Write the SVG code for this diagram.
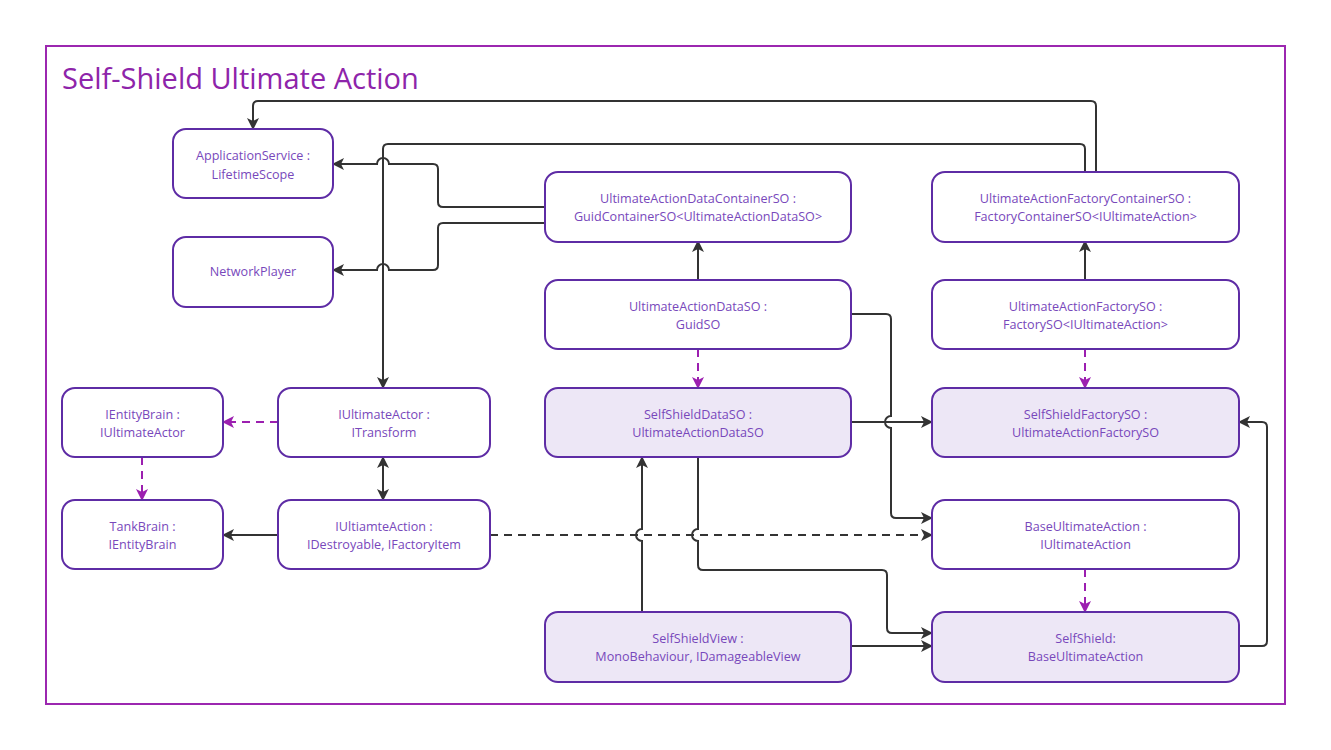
<svg xmlns="http://www.w3.org/2000/svg" width="1331" height="750" viewBox="0 0 1331 750">
<style>
.frame{fill:none;stroke:#9c27b0;stroke-width:2}
.title{font-family:"Open Sans","Liberation Sans",sans-serif;font-size:29px;fill:#8e24aa}
.node rect{fill:#ffffff;stroke:#5e2ca5;stroke-width:2}
.node.hl rect{fill:#ede7f6}
.node text{font-family:"Open Sans","Liberation Sans",sans-serif;font-size:12.6px;fill:#7848bb;text-anchor:middle}
.c{fill:none;stroke:#333333;stroke-width:2}
.d{stroke-dasharray:8,6}
.p{fill:none;stroke:#9c1fb0;stroke-width:2;stroke-dasharray:8,6}
</style>
<defs>
<marker id="a" viewBox="0 0 12 12" refX="11" refY="6" markerWidth="12" markerHeight="12" markerUnits="userSpaceOnUse" orient="auto-start-reverse">
<path d="M0,0 L12,6 L0,12 L3,6 Z" fill="#333333"/>
</marker>
<marker id="ap" viewBox="0 0 12 12" refX="11" refY="6" markerWidth="12" markerHeight="12" markerUnits="userSpaceOnUse" orient="auto">
<path d="M0,0 L12,6 L0,12 L3,6 Z" fill="#9c1fb0"/>
</marker>
</defs>
<rect class="frame" x="46" y="46" width="1239" height="658"/>
<text class="title" x="62" y="89">Self-Shield Ultimate Action</text>

<g id="connectors">
<path class="c" marker-end="url(#a)" d="M1096,172 V106 Q1096,101 1091,101 H258 Q253,101 253,106 V129"/>
<path class="c" marker-end="url(#a)" d="M1085,172 V149 Q1085,144 1080,144 H388 Q383,144 383,149 V388"/>
<path class="c" marker-end="url(#a)" d="M545,207 H443 Q438,207 438,202 V169 Q438,164 433,164 H389 A6,6 0 0 0 377,164 H333"/>
<path class="c" marker-end="url(#a)" d="M545,223 H443 Q438,223 438,228 V265 Q438,270 433,270 H389 A6,6 0 0 0 377,270 H333"/>
<path class="c" marker-end="url(#a)" d="M698,280 V241"/>
<path class="c" marker-end="url(#a)" d="M1085,280 V241"/>
<path class="p" marker-end="url(#ap)" d="M698,349 V388"/>
<path class="p" marker-end="url(#ap)" d="M1085,349 V388"/>
<path class="c" marker-end="url(#a)" d="M851,314 H886 Q891,314 891,319 V416 A6,6 0 0 0 891,428 V513 Q891,518 896,518 H932"/>
<path class="c" marker-end="url(#a)" d="M851,422 H932"/>
<path class="c d" marker-end="url(#a)" d="M490,535 H932"/>
<path class="c" marker-end="url(#a)" d="M642,612 V541 A6,6 0 0 1 642,529 V457"/>
<path class="c" marker-end="url(#a)" d="M698,457 V529 A6,6 0 0 0 698,541 V565 Q698,570 703,570 H882 Q887,570 887,575 V628 Q887,633 892,633 H932"/>
<path class="c" marker-end="url(#a)" d="M851,646 H932"/>
<path class="p" marker-end="url(#ap)" d="M1085,569 V612"/>
<path class="c" marker-end="url(#a)" d="M1239,646 H1262 Q1267,646 1267,641 V427 Q1267,422 1262,422 H1239"/>
<path class="p" marker-end="url(#ap)" d="M278,422 H223"/>
<path class="p" marker-end="url(#ap)" d="M142,457 V500"/>
<path class="c" marker-end="url(#a)" d="M278,535 H223"/>
<path class="c" marker-start="url(#a)" marker-end="url(#a)" d="M383,457 V500"/>
</g>

<g id="n-appservice" class="node"><rect x="173" y="129" width="160" height="69" rx="13"/><text x="253" y="160">ApplicationService :</text><text x="253" y="178.5">LifetimeScope</text></g>
<g id="n-networkplayer" class="node"><rect x="173" y="237" width="160" height="70" rx="13"/><text x="253" y="276">NetworkPlayer</text></g>
<g id="n-datacontainer" class="node"><rect x="545" y="172" width="306" height="70" rx="13"/><text x="698" y="202.5">UltimateActionDataContainerSO :</text><text x="698" y="221">GuidContainerSO&lt;UltimateActionDataSO&gt;</text></g>
<g id="n-factorycontainer" class="node"><rect x="932" y="172" width="307" height="70" rx="13"/><text x="1085.5" y="202.5">UltimateActionFactoryContainerSO :</text><text x="1085.5" y="221">FactoryContainerSO&lt;IUltimateAction&gt;</text></g>
<g id="n-dataso" class="node"><rect x="545" y="280" width="306" height="69" rx="13"/><text x="698" y="310.5">UltimateActionDataSO :</text><text x="698" y="329">GuidSO</text></g>
<g id="n-factoryso" class="node"><rect x="932" y="280" width="307" height="69" rx="13"/><text x="1085.5" y="310.5">UltimateActionFactorySO :</text><text x="1085.5" y="329">FactorySO&lt;IUltimateAction&gt;</text></g>
<g id="n-ientitybrain" class="node"><rect x="62" y="388" width="161" height="69" rx="13"/><text x="142.5" y="418.5">IEntityBrain :</text><text x="142.5" y="437">IUltimateActor</text></g>
<g id="n-iultimateactor" class="node"><rect x="278" y="388" width="212" height="69" rx="13"/><text x="384" y="418.5">IUltimateActor :</text><text x="384" y="437">ITransform</text></g>
<g id="n-selfshielddataso" class="node hl"><rect x="545" y="388" width="306" height="69" rx="13"/><text x="698" y="418.5">SelfShieldDataSO :</text><text x="698" y="437">UltimateActionDataSO</text></g>
<g id="n-selfshieldfactoryso" class="node hl"><rect x="932" y="388" width="307" height="69" rx="13"/><text x="1085.5" y="418.5">SelfShieldFactorySO :</text><text x="1085.5" y="437">UltimateActionFactorySO</text></g>
<g id="n-tankbrain" class="node"><rect x="62" y="500" width="161" height="69" rx="13"/><text x="142.5" y="530.5">TankBrain :</text><text x="142.5" y="549">IEntityBrain</text></g>
<g id="n-iultiamteaction" class="node"><rect x="278" y="500" width="212" height="69" rx="13"/><text x="384" y="530.5">IUltiamteAction :</text><text x="384" y="549">IDestroyable, IFactoryItem</text></g>
<g id="n-baseultimateaction" class="node"><rect x="932" y="500" width="307" height="69" rx="13"/><text x="1085.5" y="530.5">BaseUltimateAction :</text><text x="1085.5" y="549">IUltimateAction</text></g>
<g id="n-selfshieldview" class="node hl"><rect x="545" y="612" width="306" height="70" rx="13"/><text x="698" y="642.5">SelfShieldView :</text><text x="698" y="661">MonoBehaviour, IDamageableView</text></g>
<g id="n-selfshield" class="node hl"><rect x="932" y="612" width="307" height="70" rx="13"/><text x="1085.5" y="642.5">SelfShield:</text><text x="1085.5" y="661">BaseUltimateAction</text></g>
</svg>
